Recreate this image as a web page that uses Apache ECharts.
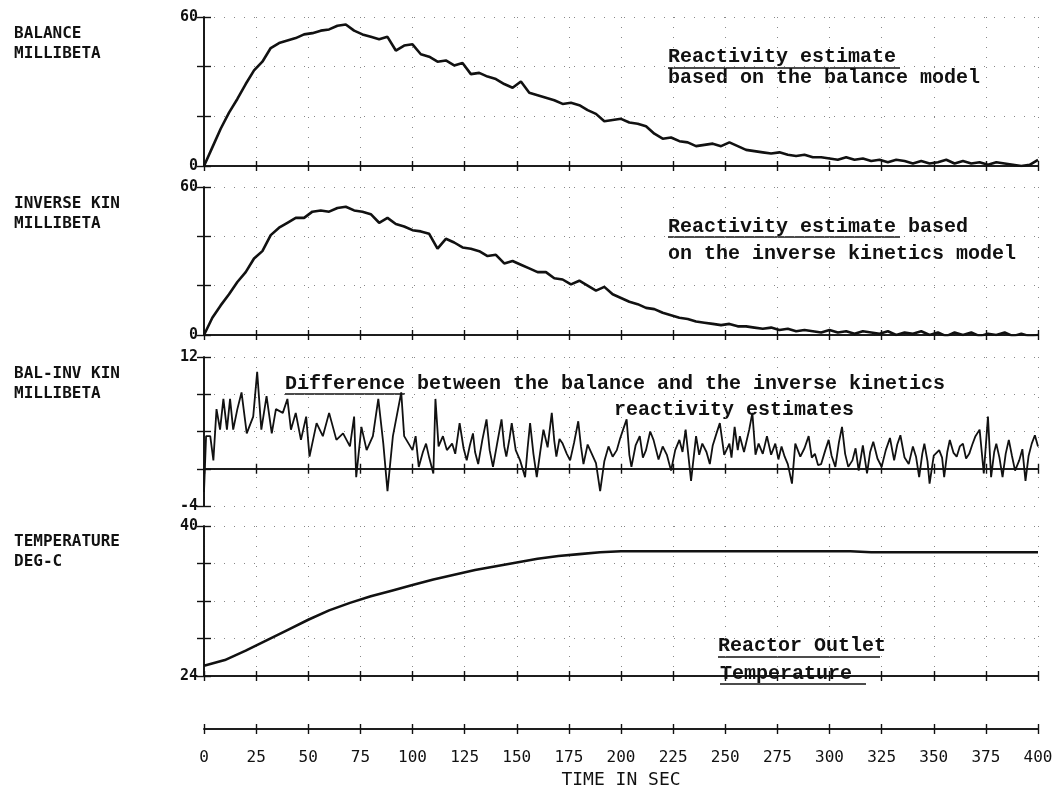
<!DOCTYPE html>
<html>
<head>
<meta charset="utf-8">
<script src="https://cdn.jsdelivr.net/npm/echarts@6/dist/echarts.min.js"></script>
<style>
  html, body { margin: 0; padding: 0; background: #fff; }
  #main { width: 1061px; height: 790px; }
</style>
</head>
<body>
<div id="main"></div>
<script>
// balance model reactivity (millibeta), every 4 s
var balanceTime = [];
for (var t = 0; t <= 400; t += 4) balanceTime.push(t);
var balanceValue = [
  0, 7.5, 15, 21.5, 27, 33, 38.5, 42, 47.5, 49.5,
  50.5, 51.5, 53, 53.5, 54.5, 55, 56.5, 57, 54.5, 53,
  52, 51, 52, 46.5, 48.5, 49, 45, 44, 42, 42.5,
  40.5, 41.5, 37, 37.5, 36, 35, 33, 31.5, 34, 29.5,
  28.5, 27.5, 26.5, 25, 25.5, 24.5, 22.5, 21, 18, 18.5,
  19, 17.5, 17, 16, 13, 11, 11.5, 10, 9.5, 8,
  8.5, 9, 8, 9.5, 8, 6.5, 6, 5.5, 5, 5.5,
  4.5, 4, 4.5, 3.5, 3.5, 3, 2.5, 3.5, 2.5, 3,
  2, 2.5, 1.5, 2.5, 2, 1, 2, 1, 1.5, 2.5,
  1, 2, 1, 1.5, 0.5, 1.5, 1, 0.5, 0, 0.5,
  2.5
];

// inverse kinetics reactivity (millibeta), every 4 s
var inverseValue = [
  0, 7, 12, 16.5, 21.5, 25.5, 31, 34, 40.5, 43.5,
  45.5, 47.5, 47.5, 50, 50.5, 50, 51.5, 52, 50.5, 50,
  49, 45.5, 47.5, 45, 44, 42.5, 42, 41, 35, 39,
  37.5, 35.5, 35, 34, 32, 32.5, 29, 30, 28.5, 27,
  25.5, 25.5, 23, 22.5, 20.5, 22, 20, 18, 19.5, 16.5,
  15, 13.5, 12.5, 11, 10.5, 9, 8, 7, 6.5, 5.5,
  5, 4.5, 4, 4.5, 3.5, 3.5, 3, 2.5, 3, 2,
  2.5, 1.5, 2, 1.5, 1, 2, 1, 1.5, 0.5, 1.5,
  1, 0.5, 1.5, 0, 1, 0.5, 1.5, 0, 1, -0.5,
  1, 0, 1, -0.5, 0.5, 0, 1, -0.5, 0.5, -0.5,
  0
];

// balance minus inverse kinetics (millibeta), [time, value]
var diffReadings = [
  [0, -2.5], [1, 3.5], [3, 3.5], [4.5, 0.9], [6, 6.4], [7.7, 4.2], [9.3, 7.5], [11, 4.2], [12.5, 7.5], [14, 4.2],
  [16, 6.4], [18, 8.2], [20.5, 3.8], [23.6, 5.6], [25.5, 10.4], [27.5, 4.2], [30, 7.8], [32.5, 3.8], [34.5, 6.4], [37.8, 6],
  [40, 7.5], [41.7, 4.2], [44, 6], [46.5, 3.1], [49, 5.6], [50.6, 1.3], [54, 4.9], [57, 3.5], [60, 6], [63.5, 3.1],
  [66.7, 3.8], [70, 2.4], [72, 5.6], [73, -0.9], [75.5, 4.5], [78, 2], [81, 3.5], [83.6, 7.5], [86, 2.7], [88, -2.4],
  [90.6, 3.5], [94.6, 8.2], [96, 3.5], [100, 2], [101.5, 3.5], [103, 0.2], [105, 1.8], [106.5, 2.7], [108, 1.2], [110, -0.5],
  [111, 7.5], [112.5, 2.4], [114.6, 3.5], [116.5, 2], [119, 2.7], [120.5, 1.6], [122.6, 4.9], [124.5, 2.2], [126, 0.9], [127.5, 2.5],
  [129, 3.8], [130, 1.8], [131.5, 0.5], [133.5, 3.1], [135.5, 5.3], [137, 2], [138.6, 0.2], [140.5, 2.6], [142.7, 5.3], [144, 2.4],
  [145, 1.3], [146.5, 3.2], [147.6, 4.9], [149.5, 2], [151.6, 0.9], [154, -0.9], [155.2, 2.2], [156.4, 4.9], [158, 1.6], [159.6, -0.9],
  [161.2, 1.7], [162.8, 4.2], [164.8, 2.3], [166.8, 6], [168, 3], [169, 1.3], [170.5, 3.2], [172, 2.7], [174, 1.6], [175.6, 0.9],
  [177.5, 2.8], [179.5, 5.1], [180.8, 2.4], [182, 0.5], [184, 2.6], [186, 1.6], [188, 0.6], [190, -2.4], [192, 0.8], [194, 2.4],
  [196, 1.3], [198, 2], [199.5, 3.2], [201, 4.2], [202.7, 5.3], [204, 1.5], [205, 0.2], [207, 2.5], [209, 3.5], [210.5, 1.2],
  [212, 2], [214, 4], [215.6, 3.1], [218, 1], [220, 2.4], [222, 1.5], [224, -0.2], [226, 2], [228, 3.1], [229.5, 1.8],
  [231, 4.2], [233.6, -1.3], [236, 3.5], [237.5, 1.5], [239, 2.7], [241, 1.8], [242.6, 0.5], [244, 2.5], [245.8, 3.8], [247.4, 4.9],
  [249.5, 1.5], [252, 2.7], [253, 1.2], [254.5, 4.5], [256, 2], [257, 3.5], [259, 1.8], [261.5, 4.2], [263, 6], [264.5, 1.5],
  [266, 2.7], [268, 1.6], [270, 3.5], [272, 1.5], [274, 2.7], [275.5, 1], [277, 2.4], [278.5, 1.3], [280, 0.5], [282, -1.6],
  [283.6, 2.7], [286, 1.3], [288, 2.2], [290, 3.5], [291.5, 1.2], [293, 1.6], [294.5, 0.4], [296, 0.5], [298, 2], [299.6, 3.1],
  [301, 1.4], [302.8, 0.2], [304.5, 2.8], [306, 4.5], [307.5, 1.6], [309, 0.2], [311, 0.9], [312.5, 2.2], [314, -0.2], [316, 2.5],
  [318, -0.5], [319.5, 1.8], [321, 2.9], [323, 1.1], [325, 0.2], [327, 2], [329, 3.3], [331, 0.9], [332.5, 2.6], [334, 3.6],
  [336, 1.2], [338, 0.5], [340, 2.4], [341.5, 1.3], [343, -0.9], [344.5, 1.6], [345.5, 2.7], [347, 0.8], [348, -1.6], [350, 1.4],
  [352.6, 2], [354, 1.2], [355, -0.9], [356.5, 1.8], [357.7, 3.1], [359.5, 1.7], [361, 1.3], [362.5, 2.4], [364, 2.7], [365.5, 1.1],
  [367, 1.6], [368.5, 2.6], [370, 3.5], [372, 4.2], [374, -0.5], [376, 5.6], [377.5, -0.9], [379, 1.8], [380, 2.7], [381.5, 1.2],
  [383, -0.9], [384.5, 1.6], [386, 3.1], [387.5, 1.4], [389, -0.2], [391, 0.9], [392.5, 2.1], [394, -1.3], [395.5, 1.4], [397, 2.7],
  [398.5, 3.6], [400, 2.4]
];
var diffTime = diffReadings.map(function (d) { return d[0]; });
var diffValue = diffReadings.map(function (d) { return d[1]; });

// reactor outlet temperature (deg C), every 10 s
var tempTime = [];
for (var s = 0; s <= 400; s += 10) tempTime.push(s);
var tempValue = [
  25.1, 25.7, 26.7, 27.8, 28.9, 30.0, 31.0, 31.8, 32.5, 33.1,
  33.7, 34.3, 34.8, 35.3, 35.7, 36.1, 36.5, 36.8, 37.0, 37.2,
  37.3, 37.3, 37.3, 37.3, 37.3, 37.3, 37.3, 37.3, 37.3, 37.3,
  37.3, 37.3, 37.2, 37.2, 37.2, 37.2, 37.2, 37.2, 37.2, 37.2,
  37.2
];

var panelNames = [
  ['BALANCE', 'MILLIBETA'],
  ['INVERSE KIN', 'MILLIBETA'],
  ['BAL-INV KIN', 'MILLIBETA'],
  ['TEMPERATURE', 'DEG-C']
];
var panelSeries = [
  [balanceTime, balanceValue],
  [balanceTime, inverseValue],
  [diffTime, diffValue],
  [tempTime, tempValue]
];

var chart = echarts.init(document.getElementById('main'));

var panels = [
  { top: 17, height: 149, min: 0, max: 60, interval: 20, lw: 2.6, nameY: 32 },
  { top: 187, height: 148, min: 0, max: 60, interval: 20, lw: 2.6, nameY: 202 },
  { top: 357, height: 149, min: -4, max: 12, interval: 4, lw: 1.8, nameY: 372 },
  { top: 526, height: 150, min: 24, max: 40, interval: 4, lw: 2.6, nameY: 540 }
];

var LEFT = 204, RIGHT = 23;
var black = '#111';
var dotted = { color: '#888', width: 1, type: [1, 9] };
var labelFont = 'DejaVu Sans Mono';
var noteFont = 'Liberation Mono';

var grids = [], xAxes = [], yAxes = [], series = [], graphics = [];

panels.forEach(function (p, i) {
  grids.push({ left: LEFT, right: RIGHT, top: p.top, height: p.height });
  [true, false].forEach(function (inside, k) {
    xAxes.push({
      type: 'value', gridIndex: i, min: 0, max: 400, interval: 25,
      position: 'bottom',
      axisLine: { show: true, onZero: true, lineStyle: { color: black, width: 1.6 } },
      axisTick: { show: true, inside: inside, length: 5, lineStyle: { color: black, width: 1.4 } },
      axisLabel: { show: false },
      splitLine: { show: k === 0, lineStyle: dotted }
    });
    yAxes.push({
      type: 'value', gridIndex: i, min: p.min, max: p.max, interval: p.interval,
      position: 'left',
      axisLine: { show: true, onZero: false, lineStyle: { color: black, width: 1.6 } },
      axisTick: { show: true, inside: inside, length: 7, lineStyle: { color: black, width: 1.4 } },
      axisLabel: {
        show: k === 1, margin: 6, color: black, fontFamily: labelFont, fontWeight: 'bold', fontSize: 15,
        formatter: function (v) { return (v === p.min || v === p.max) ? String(v) : ''; }
      },
      splitLine: { show: k === 0, lineStyle: dotted }
    });
  });
  var ts = panelSeries[i][0], vs = panelSeries[i][1];
  series.push({
    type: 'line', xAxisIndex: 2 * i, yAxisIndex: 2 * i,
    data: ts.map(function (t, j) { return [t, vs[j]]; }),
    showSymbol: false, symbol: 'none', smooth: false,
    lineStyle: { color: black, width: p.lw }
  });
  graphics.push({
    type: 'text', left: 14, top: p.nameY - 8,
    style: { text: panelNames[i][0] + '\n' + panelNames[i][1], fill: black, font: 'bold 16px "DejaVu Sans Mono"', lineHeight: 20 }
  });
});

// bottom time scale
grids.push({ left: LEFT, right: RIGHT, top: 720, height: 10 });
[true, false].forEach(function (inside, k) {
  xAxes.push({
    type: 'value', gridIndex: 4, min: 0, max: 400, interval: 25, position: 'bottom',
    axisLine: { show: true, onZero: false, lineStyle: { color: black, width: 1.6 } },
    axisTick: { show: true, inside: inside, length: 5, lineStyle: { color: black, width: 1.4 } },
    axisLabel: { show: k === 0, margin: 21, color: black, fontFamily: labelFont, fontSize: 16 },
    splitLine: { show: false },
    name: k === 0 ? 'TIME IN SEC' : '', nameLocation: 'middle', nameGap: 42,
    nameTextStyle: { color: black, fontFamily: labelFont, fontSize: 18 }
  });
});
yAxes.push({ type: 'value', gridIndex: 4, show: false, min: 0, max: 1 });

// annotations
function note(x, y, txt) {
  graphics.push({
    type: 'text', left: x, top: y - 11,
    style: { text: txt, fill: black, font: 'bold 20px "' + noteFont + '"' }
  });
}
function underline(x1, x2, y) {
  graphics.push({ type: 'line', shape: { x1: x1, y1: y, x2: x2, y2: y }, style: { stroke: black, lineWidth: 1.5 } });
}
note(668, 58, 'Reactivity estimate');
note(668, 79, 'based on the balance model');
underline(668, 900, 68);
note(668, 228, 'Reactivity estimate based');
note(668, 255, 'on the inverse kinetics model');
underline(668, 900, 237);
note(285, 385, 'Difference between the balance and the inverse kinetics');
note(614, 411, 'reactivity estimates');
underline(285, 405, 394);
note(718, 647, 'Reactor Outlet');
note(720, 675, 'Temperature');
underline(718, 880, 657);
underline(720, 866, 684);

chart.setOption({
  animation: false,
  backgroundColor: '#fff',
  grid: grids,
  xAxis: xAxes,
  yAxis: yAxes,
  series: series,
  graphic: graphics
});
</script>
</body>
</html>
